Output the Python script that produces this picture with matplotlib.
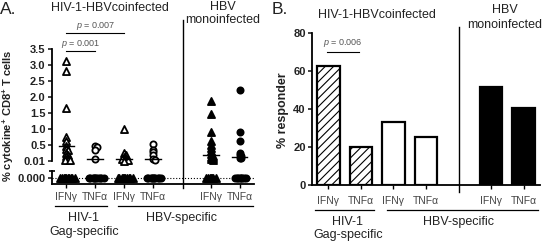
# plot.py
# Two-panel figure: cytokine+ CD8+ T cell scatter (A) and % responders bar chart (B).

import numpy as np
import matplotlib
matplotlib.use('Agg')
import matplotlib.pyplot as plt
from matplotlib import transforms

plt.rcParams['font.family'] = ['Liberation Sans', 'DejaVu Sans']
plt.rcParams['mathtext.fontset'] = 'custom'
plt.rcParams['mathtext.rm'] = 'Liberation Sans'
plt.rcParams['mathtext.it'] = 'Liberation Sans:italic'
plt.rcParams['mathtext.bf'] = 'Liberation Sans:bold'
plt.rcParams['hatch.linewidth'] = 0.8

# --- Data ---
positions = [1, 2, 3, 4, 6, 7]
tick_labels = ['IFNγ', 'TNFα', 'IFNγ', 'TNFα', 'IFNγ', 'TNFα']

# responders, in axis units (0 = "0.01")
ifn_gag_co = [3.12, 2.80, 1.66, 0.76, 0.62, 0.48, 0.38, 0.33, 0.25, 0.20, 0.15, 0.10, 0.07, 0.04, 0.02, 0.02]
tnf_gag_co = [0.48, 0.44, 0.33, 0.05]
ifn_hbv_co = [1.00, 0.24, 0.19, 0.14, 0.10, 0.07, 0.05, 0.03, 0.02, 0.01]
tnf_hbv_co = [0.53, 0.34, 0.27, 0.20, 0.05, 0.04]
ifn_hbv_mono = [1.88, 1.48, 0.92, 0.63, 0.50, 0.40, 0.30, 0.22, 0.17, 0.12, 0.08, 0.05, 0.02]
tnf_hbv_mono = [2.22, 0.92, 0.63, 0.26, 0.20, 0.15, 0.10, 0.08]
nonresponders = [10, 10, 10, 10, 7, 8]
medians = [0.47, 0.05, 0.05, 0.05, 0.19, 0.12]

responders_pct = [62.5, 20, 33.3, 25, 51.5, 40.5]

columns = [ifn_gag_co, tnf_gag_co, ifn_hbv_co, tnf_hbv_co, ifn_hbv_mono, tnf_hbv_mono]
markers = ['^', 'o', '^', 'o', '^', 'o']
filled = [False, False, False, False, True, True]

W, H = 544, 245
TXT = '#222222'


def fy(px):
    return 1 - px / H


def swarm(vals, yscale, step=1.8):
    """Greedy side-by-side placement in pixels (like a Prism dot plot)."""
    placed, offs = [], []
    for v in vals:
        y = v * yscale
        cands = [0.0] + [s * k * step for k in range(1, 40) for s in (1, -1)]
        for c in cands:
            if all(np.hypot(c - px, y - py) >= step for px, py in placed):
                break
        placed.append((c, y))
        offs.append(c)
    return np.array(offs)


fig = plt.figure(figsize=(W / 100, H / 100), dpi=100)

# ---------------- Panel A ----------------
a_left, a_right = 52, 254
ax_hi = fig.add_axes([a_left / W, fy(161), (a_right - a_left) / W, 112 / H])
ax_lo = fig.add_axes([a_left / W, fy(184), (a_right - a_left) / W, 13 / H])
xpx = (a_right - a_left) / 7.0
ypx = 112 / 3.5

for ax in (ax_hi, ax_lo):
    ax.set_xlim(0.5, 7.5)
    ax.spines['top'].set_visible(False)
    ax.spines['right'].set_visible(False)
    ax.spines['left'].set_linewidth(1.3)
    ax.spines['bottom'].set_linewidth(1.3)
    ax.patch.set_alpha(0)

ax_hi.set_ylim(0, 3.5)
ax_hi.spines['bottom'].set_visible(False)
ax_hi.set_xticks([])
yt = [0, 0.5, 1.0, 1.5, 2.0, 2.5, 3.0, 3.5]
ax_hi.set_yticks(yt)
ax_hi.set_yticklabels(['0.01', '0.5', '1.0', '1.5', '2.0', '2.5', '3.0', '3.5'],
                      fontweight='bold', fontsize=8)
ax_hi.tick_params(axis='y', length=3, width=1.2, pad=1.5, colors=TXT)

ax_lo.set_ylim(-0.6, 0.7)
ax_lo.set_yticks([0])
ax_lo.set_yticklabels(['0.000'], fontweight='bold', fontsize=8)
ax_lo.set_yticks([0.7], minor=True)
ax_lo.tick_params(axis='y', which='major', length=3, width=1.2, pad=1.5, colors=TXT)
ax_lo.tick_params(axis='y', which='minor', length=5, width=1.2, direction='inout')
ax_lo.set_xticks(positions)
ax_lo.set_xticklabels(tick_labels, fontsize=7.5, color='#444444')
ax_lo.tick_params(axis='x', length=3, width=1.0, pad=3)
ax_lo.axhline(0, color='k', lw=0.8, ls=':')

for x, vals, nz, mk, fl, med in zip(positions, columns, nonresponders, markers, filled, medians):
    fc = 'k' if fl else 'white'
    size = 26 if mk == '^' else 20
    offs = swarm(vals, ypx) / xpx
    ax_hi.scatter(x + offs, vals, marker=mk, s=size, facecolor=fc, edgecolor='k',
                  linewidths=1.3, clip_on=False, zorder=3)
    zoffs = swarm([0] * nz, 1, step=1.2) / xpx
    ax_lo.scatter(x + zoffs, [0] * nz, marker=mk, s=size, facecolor='k', edgecolor='k',
                  linewidths=1.3, clip_on=False, zorder=3)
    ax_hi.plot([x - 0.27, x + 0.27], [med, med], color='k', lw=1.0, zorder=4, clip_on=False)

tA = transforms.blended_transform_factory(ax_hi.transData, fig.transFigure)
ax_hi.plot([5.05, 5.05], [fy(20), fy(188)], transform=tA, color='k', lw=1.0, clip_on=False)

# ---------------- Panel B ----------------
ax_b = fig.add_axes([312 / W, fy(185), 228 / W, 152 / H])
ax_b.set_xlim(0.5, 7.5)
ax_b.set_ylim(0, 80)
ax_b.spines['top'].set_visible(False)
ax_b.spines['right'].set_visible(False)
ax_b.spines['left'].set_linewidth(1.3)
ax_b.spines['bottom'].set_linewidth(1.3)
ax_b.set_yticks([0, 20, 40, 60, 80])
ax_b.set_yticklabels(['0', '20', '40', '60', '80'], fontweight='bold', fontsize=8)
ax_b.tick_params(axis='y', length=3, width=1.2, pad=1.5, colors=TXT)
ax_b.set_xticks(positions)
ax_b.set_xticklabels(tick_labels, fontsize=7.5, color='#444444')
ax_b.tick_params(axis='x', length=3, width=1.0, pad=5)

bar_face = ['white', 'white', 'white', 'white', 'black', 'black']
bar_hatch = ['////', '////', None, None, None, None]
for x, v, fc, ht in zip(positions, responders_pct, bar_face, bar_hatch):
    ax_b.bar(x, v, width=0.69, facecolor=fc, edgecolor='k', linewidth=1.6, hatch=ht, zorder=2)

tB = transforms.blended_transform_factory(ax_b.transData, fig.transFigure)
ax_b.plot([5, 5], [fy(27), fy(192)], transform=tB, color='k', lw=1.0, clip_on=False)

# ---------------- shared labels ----------------
for ax, t, line_y, lab_y, gag_y, head_y, mono_y in (
        (ax_hi, tA, 206, 218, 232, 8, (7, 20)),
        (ax_b, tB, 210, 222, 235, 15, (10, 25))):
    ax.plot([0.6, 2.4], [fy(line_y)] * 2, transform=t, color='k', lw=0.9, clip_on=False)
    ax.plot([2.8, 7.45], [fy(line_y)] * 2, transform=t, color='k', lw=0.9, clip_on=False)
    ax.text(1.6, fy(lab_y), 'HIV-1', transform=t, ha='center', va='center', fontsize=9, color=TXT)
    ax.text(1.6, fy(gag_y), 'Gag-specific', transform=t, ha='center', va='center', fontsize=9, color=TXT)
    ax.text(5.0, fy(lab_y), 'HBV-specific', transform=t, ha='center', va='center', fontsize=9, color=TXT)
    ax.text(2.5, fy(head_y), 'HIV-1-HBVcoinfected', transform=t, ha='center', va='center',
            fontsize=9, color=TXT)
    ax.text(6.42, fy(mono_y[0]), 'HBV', transform=t, ha='center', va='center', fontsize=9, color=TXT)
    ax.text(6.42, fy(mono_y[1]), 'monoinfected', transform=t, ha='center', va='center',
            fontsize=9, color=TXT)

# p-value brackets
for ax, t, x0, x1, ly, ty, label in (
        (ax_hi, tA, 1, 3, 33, 26, '$p$ = 0.007'),
        (ax_hi, tA, 1, 2, 51, 44, '$p$ = 0.001'),
        (ax_b, tB, 0.95, 1.95, 52, 43, '$p$ = 0.006')):
    ax.plot([x0, x1], [fy(ly)] * 2, transform=t, color='k', lw=0.8, clip_on=False)
    ax.text((x0 + x1) / 2, fy(ty), label, transform=t, ha='center', va='center',
            fontsize=6.5, color='#555555')

fig.text(8 / W, fy(116), r'% cytokine$^{\mathbf{+}}$ CD8$^{\mathbf{+}}$ T cells', rotation=90,
         ha='center', va='center', fontsize=8, fontweight='bold', color=TXT)
fig.text(283 / W, fy(110), '% responder', rotation=90, ha='center', va='center',
         fontsize=9, fontweight='bold', color=TXT)
fig.text(8 / W, fy(10), 'A.', ha='center', va='center', fontsize=12.5, color=TXT)
fig.text(280 / W, fy(9), 'B.', ha='center', va='center', fontsize=12.5, color=TXT)

fig.savefig('out.png', dpi=100)
